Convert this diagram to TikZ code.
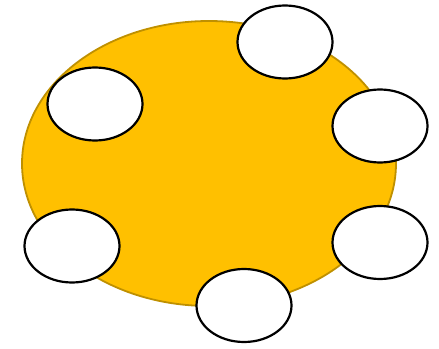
\documentclass[tikz,border=0pt]{standalone}
\usetikzlibrary{shapes.geometric}
\definecolor{gold}{HTML}{FFC000}
\definecolor{goldedge}{HTML}{BF9000}
\tikzset{
  bigblob/.style={ellipse, draw=goldedge, fill=gold, line width=1.8pt, minimum width=374pt, minimum height=285pt, inner sep=0pt},
  satellite/.style={ellipse, draw=black, fill=white, line width=2.2pt, minimum width=95pt, minimum height=73pt, inner sep=0pt}
}
\begin{document}
\begin{tikzpicture}[x=1pt,y=-1pt]
\useasboundingbox (0,0) rectangle (439,348);
\node[bigblob] (core) at (209,163.5) {};
\node[satellite] (s1) at (285,42) {};
\node[satellite] (s2) at (95,104) {};
\node[satellite] (s3) at (380,126) {};
\node[satellite] (s4) at (72,246) {};
\node[satellite] (s5) at (380,242.5) {};
\node[satellite] (s6) at (244,305.5) {};
\end{tikzpicture}
\end{document}
